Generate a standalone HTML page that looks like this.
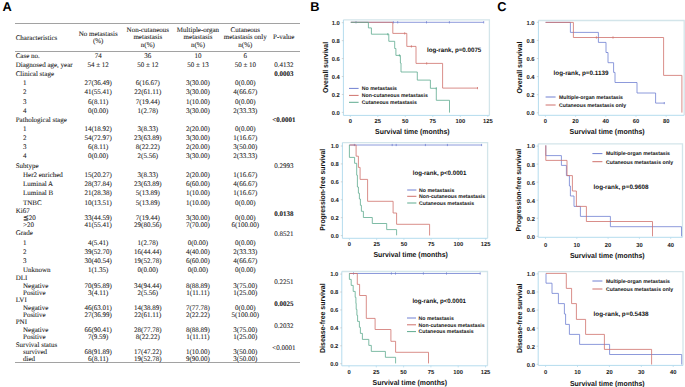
<!DOCTYPE html>
<html><head><meta charset="utf-8"><title>Figure</title>
<style>
html,body{margin:0;padding:0;background:#fff;}
body{width:685px;height:387px;overflow:hidden;font-family:"Liberation Sans",sans-serif;}
svg{display:block;text-rendering:geometricPrecision;}
</style></head>
<body>
<svg width="685" height="387" viewBox="0 0 685 387">
<rect width="685" height="387" fill="#fff"/>
<g id="table">
<line x1="15" y1="23.5" x2="300" y2="23.5" stroke="#a2a2a2" stroke-width="1.15"/>
<line x1="15" y1="51.5" x2="300" y2="51.5" stroke="#a2a2a2" stroke-width="1.15"/>
<line x1="15" y1="362.5" x2="300" y2="362.5" stroke="#a2a2a2" stroke-width="1.15"/>
<text x="15.7" y="39.9" font-size="7" text-anchor="start" font-family="'Liberation Serif', serif" fill="#1c1c1c" stroke="#1c1c1c" stroke-width="0.08" >Characteristics</text>
<text x="98.2" y="35.9" font-size="7" text-anchor="middle" font-family="'Liberation Serif', serif" fill="#1c1c1c" stroke="#1c1c1c" stroke-width="0.08" >No metastasis</text>
<text x="98.2" y="43.3" font-size="7" text-anchor="middle" font-family="'Liberation Serif', serif" fill="#1c1c1c" stroke="#1c1c1c" stroke-width="0.08" >(%)</text>
<text x="147.8" y="31.9" font-size="7" text-anchor="middle" font-family="'Liberation Serif', serif" fill="#1c1c1c" stroke="#1c1c1c" stroke-width="0.08" >Non-cutaneous</text>
<text x="147.8" y="39.4" font-size="7" text-anchor="middle" font-family="'Liberation Serif', serif" fill="#1c1c1c" stroke="#1c1c1c" stroke-width="0.08" >metastasis</text>
<text x="147.8" y="46.8" font-size="7" text-anchor="middle" font-family="'Liberation Serif', serif" fill="#1c1c1c" stroke="#1c1c1c" stroke-width="0.08" >n(%)</text>
<text x="198.0" y="31.9" font-size="7" text-anchor="middle" font-family="'Liberation Serif', serif" fill="#1c1c1c" stroke="#1c1c1c" stroke-width="0.08" >Multiple-organ</text>
<text x="198.0" y="39.4" font-size="7" text-anchor="middle" font-family="'Liberation Serif', serif" fill="#1c1c1c" stroke="#1c1c1c" stroke-width="0.08" >metastasis</text>
<text x="198.0" y="46.8" font-size="7" text-anchor="middle" font-family="'Liberation Serif', serif" fill="#1c1c1c" stroke="#1c1c1c" stroke-width="0.08" >n(%)</text>
<text x="245.3" y="31.9" font-size="7" text-anchor="middle" font-family="'Liberation Serif', serif" fill="#1c1c1c" stroke="#1c1c1c" stroke-width="0.08" >Cutaneous</text>
<text x="245.3" y="39.4" font-size="7" text-anchor="middle" font-family="'Liberation Serif', serif" fill="#1c1c1c" stroke="#1c1c1c" stroke-width="0.08" >metastasis only</text>
<text x="245.3" y="46.8" font-size="7" text-anchor="middle" font-family="'Liberation Serif', serif" fill="#1c1c1c" stroke="#1c1c1c" stroke-width="0.08" >n(%)</text>
<text x="283.8" y="39.4" font-size="7" text-anchor="middle" font-family="'Liberation Serif', serif" fill="#1c1c1c" stroke="#1c1c1c" stroke-width="0.08" >P-value</text>
<text x="15.7" y="57.9" font-size="7" text-anchor="start" font-family="'Liberation Serif', serif" fill="#1c1c1c" stroke="#1c1c1c" stroke-width="0.08" >Case no.</text>
<text x="98.2" y="57.9" font-size="7" text-anchor="middle" font-family="'Liberation Serif', serif" fill="#1c1c1c" stroke="#1c1c1c" stroke-width="0.08" >74</text>
<text x="147.8" y="57.9" font-size="7" text-anchor="middle" font-family="'Liberation Serif', serif" fill="#1c1c1c" stroke="#1c1c1c" stroke-width="0.08" >36</text>
<text x="198.0" y="57.9" font-size="7" text-anchor="middle" font-family="'Liberation Serif', serif" fill="#1c1c1c" stroke="#1c1c1c" stroke-width="0.08" >10</text>
<text x="245.3" y="57.9" font-size="7" text-anchor="middle" font-family="'Liberation Serif', serif" fill="#1c1c1c" stroke="#1c1c1c" stroke-width="0.08" >6</text>
<text x="15.7" y="67.0" font-size="7" text-anchor="start" font-family="'Liberation Serif', serif" fill="#1c1c1c" stroke="#1c1c1c" stroke-width="0.08" >Diagnosed age, year</text>
<text x="98.2" y="67.0" font-size="7" text-anchor="middle" font-family="'Liberation Serif', serif" fill="#1c1c1c" stroke="#1c1c1c" stroke-width="0.08" >54 ± 12</text>
<text x="147.8" y="67.0" font-size="7" text-anchor="middle" font-family="'Liberation Serif', serif" fill="#1c1c1c" stroke="#1c1c1c" stroke-width="0.08" >50 ± 12</text>
<text x="198.0" y="67.0" font-size="7" text-anchor="middle" font-family="'Liberation Serif', serif" fill="#1c1c1c" stroke="#1c1c1c" stroke-width="0.08" >50 ± 13</text>
<text x="245.3" y="67.0" font-size="7" text-anchor="middle" font-family="'Liberation Serif', serif" fill="#1c1c1c" stroke="#1c1c1c" stroke-width="0.08" >50 ± 10</text>
<text x="15.7" y="76.0" font-size="7" text-anchor="start" font-family="'Liberation Serif', serif" fill="#1c1c1c" stroke="#1c1c1c" stroke-width="0.08" >Clinical stage</text>
<text x="23.0" y="85.2" font-size="7" text-anchor="start" font-family="'Liberation Serif', serif" fill="#1c1c1c" stroke="#1c1c1c" stroke-width="0.08" >1</text>
<text x="98.2" y="85.2" font-size="7" text-anchor="middle" font-family="'Liberation Serif', serif" fill="#1c1c1c" stroke="#1c1c1c" stroke-width="0.08" >27(36.49)</text>
<text x="147.8" y="85.2" font-size="7" text-anchor="middle" font-family="'Liberation Serif', serif" fill="#1c1c1c" stroke="#1c1c1c" stroke-width="0.08" >6(16.67)</text>
<text x="198.0" y="85.2" font-size="7" text-anchor="middle" font-family="'Liberation Serif', serif" fill="#1c1c1c" stroke="#1c1c1c" stroke-width="0.08" >3(30.00)</text>
<text x="245.3" y="85.2" font-size="7" text-anchor="middle" font-family="'Liberation Serif', serif" fill="#1c1c1c" stroke="#1c1c1c" stroke-width="0.08" >0(0.00)</text>
<text x="23.0" y="94.4" font-size="7" text-anchor="start" font-family="'Liberation Serif', serif" fill="#1c1c1c" stroke="#1c1c1c" stroke-width="0.08" >2</text>
<text x="98.2" y="94.4" font-size="7" text-anchor="middle" font-family="'Liberation Serif', serif" fill="#1c1c1c" stroke="#1c1c1c" stroke-width="0.08" >41(55.41)</text>
<text x="147.8" y="94.4" font-size="7" text-anchor="middle" font-family="'Liberation Serif', serif" fill="#1c1c1c" stroke="#1c1c1c" stroke-width="0.08" >22(61.11)</text>
<text x="198.0" y="94.4" font-size="7" text-anchor="middle" font-family="'Liberation Serif', serif" fill="#1c1c1c" stroke="#1c1c1c" stroke-width="0.08" >3(30.00)</text>
<text x="245.3" y="94.4" font-size="7" text-anchor="middle" font-family="'Liberation Serif', serif" fill="#1c1c1c" stroke="#1c1c1c" stroke-width="0.08" >4(66.67)</text>
<text x="23.0" y="103.6" font-size="7" text-anchor="start" font-family="'Liberation Serif', serif" fill="#1c1c1c" stroke="#1c1c1c" stroke-width="0.08" >3</text>
<text x="98.2" y="103.6" font-size="7" text-anchor="middle" font-family="'Liberation Serif', serif" fill="#1c1c1c" stroke="#1c1c1c" stroke-width="0.08" >6(8.11)</text>
<text x="147.8" y="103.6" font-size="7" text-anchor="middle" font-family="'Liberation Serif', serif" fill="#1c1c1c" stroke="#1c1c1c" stroke-width="0.08" >7(19.44)</text>
<text x="198.0" y="103.6" font-size="7" text-anchor="middle" font-family="'Liberation Serif', serif" fill="#1c1c1c" stroke="#1c1c1c" stroke-width="0.08" >1(10.00)</text>
<text x="245.3" y="103.6" font-size="7" text-anchor="middle" font-family="'Liberation Serif', serif" fill="#1c1c1c" stroke="#1c1c1c" stroke-width="0.08" >0(0.00)</text>
<text x="23.0" y="112.7" font-size="7" text-anchor="start" font-family="'Liberation Serif', serif" fill="#1c1c1c" stroke="#1c1c1c" stroke-width="0.08" >4</text>
<text x="98.2" y="112.7" font-size="7" text-anchor="middle" font-family="'Liberation Serif', serif" fill="#1c1c1c" stroke="#1c1c1c" stroke-width="0.08" >0(0.00)</text>
<text x="147.8" y="112.7" font-size="7" text-anchor="middle" font-family="'Liberation Serif', serif" fill="#1c1c1c" stroke="#1c1c1c" stroke-width="0.08" >1(2.78)</text>
<text x="198.0" y="112.7" font-size="7" text-anchor="middle" font-family="'Liberation Serif', serif" fill="#1c1c1c" stroke="#1c1c1c" stroke-width="0.08" >3(30.00)</text>
<text x="245.3" y="112.7" font-size="7" text-anchor="middle" font-family="'Liberation Serif', serif" fill="#1c1c1c" stroke="#1c1c1c" stroke-width="0.08" >2(33.33)</text>
<text x="15.7" y="121.8" font-size="7" text-anchor="start" font-family="'Liberation Serif', serif" fill="#1c1c1c" stroke="#1c1c1c" stroke-width="0.08" >Pathological stage</text>
<text x="23.0" y="130.9" font-size="7" text-anchor="start" font-family="'Liberation Serif', serif" fill="#1c1c1c" stroke="#1c1c1c" stroke-width="0.08" >1</text>
<text x="98.2" y="130.9" font-size="7" text-anchor="middle" font-family="'Liberation Serif', serif" fill="#1c1c1c" stroke="#1c1c1c" stroke-width="0.08" >14(18.92)</text>
<text x="147.8" y="130.9" font-size="7" text-anchor="middle" font-family="'Liberation Serif', serif" fill="#1c1c1c" stroke="#1c1c1c" stroke-width="0.08" >3(8.33)</text>
<text x="198.0" y="130.9" font-size="7" text-anchor="middle" font-family="'Liberation Serif', serif" fill="#1c1c1c" stroke="#1c1c1c" stroke-width="0.08" >2(20.00)</text>
<text x="245.3" y="130.9" font-size="7" text-anchor="middle" font-family="'Liberation Serif', serif" fill="#1c1c1c" stroke="#1c1c1c" stroke-width="0.08" >0(0.00)</text>
<text x="23.0" y="140.2" font-size="7" text-anchor="start" font-family="'Liberation Serif', serif" fill="#1c1c1c" stroke="#1c1c1c" stroke-width="0.08" >2</text>
<text x="98.2" y="140.2" font-size="7" text-anchor="middle" font-family="'Liberation Serif', serif" fill="#1c1c1c" stroke="#1c1c1c" stroke-width="0.08" >54(72.97)</text>
<text x="147.8" y="140.2" font-size="7" text-anchor="middle" font-family="'Liberation Serif', serif" fill="#1c1c1c" stroke="#1c1c1c" stroke-width="0.08" >23(63.89)</text>
<text x="198.0" y="140.2" font-size="7" text-anchor="middle" font-family="'Liberation Serif', serif" fill="#1c1c1c" stroke="#1c1c1c" stroke-width="0.08" >3(30.00)</text>
<text x="245.3" y="140.2" font-size="7" text-anchor="middle" font-family="'Liberation Serif', serif" fill="#1c1c1c" stroke="#1c1c1c" stroke-width="0.08" >1(16.67)</text>
<text x="23.0" y="149.4" font-size="7" text-anchor="start" font-family="'Liberation Serif', serif" fill="#1c1c1c" stroke="#1c1c1c" stroke-width="0.08" >3</text>
<text x="98.2" y="149.4" font-size="7" text-anchor="middle" font-family="'Liberation Serif', serif" fill="#1c1c1c" stroke="#1c1c1c" stroke-width="0.08" >6(8.11)</text>
<text x="147.8" y="149.4" font-size="7" text-anchor="middle" font-family="'Liberation Serif', serif" fill="#1c1c1c" stroke="#1c1c1c" stroke-width="0.08" >8(22.22)</text>
<text x="198.0" y="149.4" font-size="7" text-anchor="middle" font-family="'Liberation Serif', serif" fill="#1c1c1c" stroke="#1c1c1c" stroke-width="0.08" >2(20.00)</text>
<text x="245.3" y="149.4" font-size="7" text-anchor="middle" font-family="'Liberation Serif', serif" fill="#1c1c1c" stroke="#1c1c1c" stroke-width="0.08" >3(50.00)</text>
<text x="23.0" y="158.4" font-size="7" text-anchor="start" font-family="'Liberation Serif', serif" fill="#1c1c1c" stroke="#1c1c1c" stroke-width="0.08" >4</text>
<text x="98.2" y="158.4" font-size="7" text-anchor="middle" font-family="'Liberation Serif', serif" fill="#1c1c1c" stroke="#1c1c1c" stroke-width="0.08" >0(0.00)</text>
<text x="147.8" y="158.4" font-size="7" text-anchor="middle" font-family="'Liberation Serif', serif" fill="#1c1c1c" stroke="#1c1c1c" stroke-width="0.08" >2(5.56)</text>
<text x="198.0" y="158.4" font-size="7" text-anchor="middle" font-family="'Liberation Serif', serif" fill="#1c1c1c" stroke="#1c1c1c" stroke-width="0.08" >3(30.00)</text>
<text x="245.3" y="158.4" font-size="7" text-anchor="middle" font-family="'Liberation Serif', serif" fill="#1c1c1c" stroke="#1c1c1c" stroke-width="0.08" >2(33.33)</text>
<text x="15.7" y="167.6" font-size="7" text-anchor="start" font-family="'Liberation Serif', serif" fill="#1c1c1c" stroke="#1c1c1c" stroke-width="0.08" >Subtype</text>
<text x="23.0" y="176.7" font-size="7" text-anchor="start" font-family="'Liberation Serif', serif" fill="#1c1c1c" stroke="#1c1c1c" stroke-width="0.08" >Her2 enriched</text>
<text x="98.2" y="176.7" font-size="7" text-anchor="middle" font-family="'Liberation Serif', serif" fill="#1c1c1c" stroke="#1c1c1c" stroke-width="0.08" >15(20.27)</text>
<text x="147.8" y="176.7" font-size="7" text-anchor="middle" font-family="'Liberation Serif', serif" fill="#1c1c1c" stroke="#1c1c1c" stroke-width="0.08" >3(8.33)</text>
<text x="198.0" y="176.7" font-size="7" text-anchor="middle" font-family="'Liberation Serif', serif" fill="#1c1c1c" stroke="#1c1c1c" stroke-width="0.08" >2(20.00)</text>
<text x="245.3" y="176.7" font-size="7" text-anchor="middle" font-family="'Liberation Serif', serif" fill="#1c1c1c" stroke="#1c1c1c" stroke-width="0.08" >1(16.67)</text>
<text x="23.0" y="186.0" font-size="7" text-anchor="start" font-family="'Liberation Serif', serif" fill="#1c1c1c" stroke="#1c1c1c" stroke-width="0.08" >Luminal A</text>
<text x="98.2" y="186.0" font-size="7" text-anchor="middle" font-family="'Liberation Serif', serif" fill="#1c1c1c" stroke="#1c1c1c" stroke-width="0.08" >28(37.84)</text>
<text x="147.8" y="186.0" font-size="7" text-anchor="middle" font-family="'Liberation Serif', serif" fill="#1c1c1c" stroke="#1c1c1c" stroke-width="0.08" >23(63.89)</text>
<text x="198.0" y="186.0" font-size="7" text-anchor="middle" font-family="'Liberation Serif', serif" fill="#1c1c1c" stroke="#1c1c1c" stroke-width="0.08" >6(60.00)</text>
<text x="245.3" y="186.0" font-size="7" text-anchor="middle" font-family="'Liberation Serif', serif" fill="#1c1c1c" stroke="#1c1c1c" stroke-width="0.08" >4(66.67)</text>
<text x="23.0" y="195.3" font-size="7" text-anchor="start" font-family="'Liberation Serif', serif" fill="#1c1c1c" stroke="#1c1c1c" stroke-width="0.08" >Luminal B</text>
<text x="98.2" y="195.3" font-size="7" text-anchor="middle" font-family="'Liberation Serif', serif" fill="#1c1c1c" stroke="#1c1c1c" stroke-width="0.08" >21(28.38)</text>
<text x="147.8" y="195.3" font-size="7" text-anchor="middle" font-family="'Liberation Serif', serif" fill="#1c1c1c" stroke="#1c1c1c" stroke-width="0.08" >5(13.89)</text>
<text x="198.0" y="195.3" font-size="7" text-anchor="middle" font-family="'Liberation Serif', serif" fill="#1c1c1c" stroke="#1c1c1c" stroke-width="0.08" >1(10.00)</text>
<text x="245.3" y="195.3" font-size="7" text-anchor="middle" font-family="'Liberation Serif', serif" fill="#1c1c1c" stroke="#1c1c1c" stroke-width="0.08" >1(16.67)</text>
<text x="23.0" y="204.6" font-size="7" text-anchor="start" font-family="'Liberation Serif', serif" fill="#1c1c1c" stroke="#1c1c1c" stroke-width="0.08" >TNBC</text>
<text x="98.2" y="204.6" font-size="7" text-anchor="middle" font-family="'Liberation Serif', serif" fill="#1c1c1c" stroke="#1c1c1c" stroke-width="0.08" >10(13.51)</text>
<text x="147.8" y="204.6" font-size="7" text-anchor="middle" font-family="'Liberation Serif', serif" fill="#1c1c1c" stroke="#1c1c1c" stroke-width="0.08" >5(13.89)</text>
<text x="198.0" y="204.6" font-size="7" text-anchor="middle" font-family="'Liberation Serif', serif" fill="#1c1c1c" stroke="#1c1c1c" stroke-width="0.08" >1(10.00)</text>
<text x="245.3" y="204.6" font-size="7" text-anchor="middle" font-family="'Liberation Serif', serif" fill="#1c1c1c" stroke="#1c1c1c" stroke-width="0.08" >0(0.00)</text>
<text x="15.7" y="212.7" font-size="7" text-anchor="start" font-family="'Liberation Serif', serif" fill="#1c1c1c" stroke="#1c1c1c" stroke-width="0.08" >Ki67</text>
<text x="23.0" y="220.0" font-size="7" text-anchor="start" font-family="'Liberation Serif', serif" fill="#1c1c1c" stroke="#1c1c1c" stroke-width="0.08" >≦20</text>
<text x="98.2" y="220.0" font-size="7" text-anchor="middle" font-family="'Liberation Serif', serif" fill="#1c1c1c" stroke="#1c1c1c" stroke-width="0.08" >33(44.59)</text>
<text x="147.8" y="220.0" font-size="7" text-anchor="middle" font-family="'Liberation Serif', serif" fill="#1c1c1c" stroke="#1c1c1c" stroke-width="0.08" >7(19.44)</text>
<text x="198.0" y="220.0" font-size="7" text-anchor="middle" font-family="'Liberation Serif', serif" fill="#1c1c1c" stroke="#1c1c1c" stroke-width="0.08" >3(30.00)</text>
<text x="245.3" y="220.0" font-size="7" text-anchor="middle" font-family="'Liberation Serif', serif" fill="#1c1c1c" stroke="#1c1c1c" stroke-width="0.08" >0(0.00)</text>
<text x="23.0" y="227.2" font-size="7" text-anchor="start" font-family="'Liberation Serif', serif" fill="#1c1c1c" stroke="#1c1c1c" stroke-width="0.08" >&gt;20</text>
<text x="98.2" y="227.2" font-size="7" text-anchor="middle" font-family="'Liberation Serif', serif" fill="#1c1c1c" stroke="#1c1c1c" stroke-width="0.08" >41(55.41)</text>
<text x="147.8" y="227.2" font-size="7" text-anchor="middle" font-family="'Liberation Serif', serif" fill="#1c1c1c" stroke="#1c1c1c" stroke-width="0.08" >29(80.56)</text>
<text x="198.0" y="227.2" font-size="7" text-anchor="middle" font-family="'Liberation Serif', serif" fill="#1c1c1c" stroke="#1c1c1c" stroke-width="0.08" >7(70.00)</text>
<text x="245.3" y="227.2" font-size="7" text-anchor="middle" font-family="'Liberation Serif', serif" fill="#1c1c1c" stroke="#1c1c1c" stroke-width="0.08" >6(100.00)</text>
<text x="15.7" y="235.3" font-size="7" text-anchor="start" font-family="'Liberation Serif', serif" fill="#1c1c1c" stroke="#1c1c1c" stroke-width="0.08" >Grade</text>
<text x="23.0" y="244.8" font-size="7" text-anchor="start" font-family="'Liberation Serif', serif" fill="#1c1c1c" stroke="#1c1c1c" stroke-width="0.08" >1</text>
<text x="98.2" y="244.8" font-size="7" text-anchor="middle" font-family="'Liberation Serif', serif" fill="#1c1c1c" stroke="#1c1c1c" stroke-width="0.08" >4(5.41)</text>
<text x="147.8" y="244.8" font-size="7" text-anchor="middle" font-family="'Liberation Serif', serif" fill="#1c1c1c" stroke="#1c1c1c" stroke-width="0.08" >1(2.78)</text>
<text x="198.0" y="244.8" font-size="7" text-anchor="middle" font-family="'Liberation Serif', serif" fill="#1c1c1c" stroke="#1c1c1c" stroke-width="0.08" >0(0.00)</text>
<text x="245.3" y="244.8" font-size="7" text-anchor="middle" font-family="'Liberation Serif', serif" fill="#1c1c1c" stroke="#1c1c1c" stroke-width="0.08" >0(0.00)</text>
<text x="23.0" y="254.0" font-size="7" text-anchor="start" font-family="'Liberation Serif', serif" fill="#1c1c1c" stroke="#1c1c1c" stroke-width="0.08" >2</text>
<text x="98.2" y="254.0" font-size="7" text-anchor="middle" font-family="'Liberation Serif', serif" fill="#1c1c1c" stroke="#1c1c1c" stroke-width="0.08" >39(52.70)</text>
<text x="147.8" y="254.0" font-size="7" text-anchor="middle" font-family="'Liberation Serif', serif" fill="#1c1c1c" stroke="#1c1c1c" stroke-width="0.08" >16(44.44)</text>
<text x="198.0" y="254.0" font-size="7" text-anchor="middle" font-family="'Liberation Serif', serif" fill="#1c1c1c" stroke="#1c1c1c" stroke-width="0.08" >4(40.00)</text>
<text x="245.3" y="254.0" font-size="7" text-anchor="middle" font-family="'Liberation Serif', serif" fill="#1c1c1c" stroke="#1c1c1c" stroke-width="0.08" >2(33.33)</text>
<text x="23.0" y="263.0" font-size="7" text-anchor="start" font-family="'Liberation Serif', serif" fill="#1c1c1c" stroke="#1c1c1c" stroke-width="0.08" >3</text>
<text x="98.2" y="263.0" font-size="7" text-anchor="middle" font-family="'Liberation Serif', serif" fill="#1c1c1c" stroke="#1c1c1c" stroke-width="0.08" >30(40.54)</text>
<text x="147.8" y="263.0" font-size="7" text-anchor="middle" font-family="'Liberation Serif', serif" fill="#1c1c1c" stroke="#1c1c1c" stroke-width="0.08" >19(52.78)</text>
<text x="198.0" y="263.0" font-size="7" text-anchor="middle" font-family="'Liberation Serif', serif" fill="#1c1c1c" stroke="#1c1c1c" stroke-width="0.08" >6(60.00)</text>
<text x="245.3" y="263.0" font-size="7" text-anchor="middle" font-family="'Liberation Serif', serif" fill="#1c1c1c" stroke="#1c1c1c" stroke-width="0.08" >4(66.67)</text>
<text x="23.0" y="272.1" font-size="7" text-anchor="start" font-family="'Liberation Serif', serif" fill="#1c1c1c" stroke="#1c1c1c" stroke-width="0.08" >Unknown</text>
<text x="98.2" y="272.1" font-size="7" text-anchor="middle" font-family="'Liberation Serif', serif" fill="#1c1c1c" stroke="#1c1c1c" stroke-width="0.08" >1(1.35)</text>
<text x="147.8" y="272.1" font-size="7" text-anchor="middle" font-family="'Liberation Serif', serif" fill="#1c1c1c" stroke="#1c1c1c" stroke-width="0.08" >0(0.00)</text>
<text x="198.0" y="272.1" font-size="7" text-anchor="middle" font-family="'Liberation Serif', serif" fill="#1c1c1c" stroke="#1c1c1c" stroke-width="0.08" >0(0.00)</text>
<text x="245.3" y="272.1" font-size="7" text-anchor="middle" font-family="'Liberation Serif', serif" fill="#1c1c1c" stroke="#1c1c1c" stroke-width="0.08" >0(0.00)</text>
<text x="15.7" y="280.4" font-size="7" text-anchor="start" font-family="'Liberation Serif', serif" fill="#1c1c1c" stroke="#1c1c1c" stroke-width="0.08" >DLI</text>
<text x="23.0" y="287.6" font-size="7" text-anchor="start" font-family="'Liberation Serif', serif" fill="#1c1c1c" stroke="#1c1c1c" stroke-width="0.08" >Negative</text>
<text x="98.2" y="287.6" font-size="7" text-anchor="middle" font-family="'Liberation Serif', serif" fill="#1c1c1c" stroke="#1c1c1c" stroke-width="0.08" >70(95.89)</text>
<text x="147.8" y="287.6" font-size="7" text-anchor="middle" font-family="'Liberation Serif', serif" fill="#1c1c1c" stroke="#1c1c1c" stroke-width="0.08" >34(94.44)</text>
<text x="198.0" y="287.6" font-size="7" text-anchor="middle" font-family="'Liberation Serif', serif" fill="#1c1c1c" stroke="#1c1c1c" stroke-width="0.08" >8(88.89)</text>
<text x="245.3" y="287.6" font-size="7" text-anchor="middle" font-family="'Liberation Serif', serif" fill="#1c1c1c" stroke="#1c1c1c" stroke-width="0.08" >3(75.00)</text>
<text x="23.0" y="294.7" font-size="7" text-anchor="start" font-family="'Liberation Serif', serif" fill="#1c1c1c" stroke="#1c1c1c" stroke-width="0.08" >Positive</text>
<text x="98.2" y="294.7" font-size="7" text-anchor="middle" font-family="'Liberation Serif', serif" fill="#1c1c1c" stroke="#1c1c1c" stroke-width="0.08" >3(4.11)</text>
<text x="147.8" y="294.7" font-size="7" text-anchor="middle" font-family="'Liberation Serif', serif" fill="#1c1c1c" stroke="#1c1c1c" stroke-width="0.08" >2(5.56)</text>
<text x="198.0" y="294.7" font-size="7" text-anchor="middle" font-family="'Liberation Serif', serif" fill="#1c1c1c" stroke="#1c1c1c" stroke-width="0.08" >1(11.11)</text>
<text x="245.3" y="294.7" font-size="7" text-anchor="middle" font-family="'Liberation Serif', serif" fill="#1c1c1c" stroke="#1c1c1c" stroke-width="0.08" >1(25.00)</text>
<text x="15.7" y="302.3" font-size="7" text-anchor="start" font-family="'Liberation Serif', serif" fill="#1c1c1c" stroke="#1c1c1c" stroke-width="0.08" >LVI</text>
<text x="23.0" y="309.5" font-size="7" text-anchor="start" font-family="'Liberation Serif', serif" fill="#1c1c1c" stroke="#1c1c1c" stroke-width="0.08" >Negative</text>
<text x="98.2" y="309.5" font-size="7" text-anchor="middle" font-family="'Liberation Serif', serif" fill="#1c1c1c" stroke="#1c1c1c" stroke-width="0.08" >46(63.01)</text>
<text x="147.8" y="309.5" font-size="7" text-anchor="middle" font-family="'Liberation Serif', serif" fill="#1c1c1c" stroke="#1c1c1c" stroke-width="0.08" >14(38.89)</text>
<text x="198.0" y="309.5" font-size="7" text-anchor="middle" font-family="'Liberation Serif', serif" fill="#1c1c1c" stroke="#1c1c1c" stroke-width="0.08" >7(77.78)</text>
<text x="245.3" y="309.5" font-size="7" text-anchor="middle" font-family="'Liberation Serif', serif" fill="#1c1c1c" stroke="#1c1c1c" stroke-width="0.08" >0(0.00)</text>
<text x="23.0" y="316.8" font-size="7" text-anchor="start" font-family="'Liberation Serif', serif" fill="#1c1c1c" stroke="#1c1c1c" stroke-width="0.08" >Positive</text>
<text x="98.2" y="316.8" font-size="7" text-anchor="middle" font-family="'Liberation Serif', serif" fill="#1c1c1c" stroke="#1c1c1c" stroke-width="0.08" >27(36.99)</text>
<text x="147.8" y="316.8" font-size="7" text-anchor="middle" font-family="'Liberation Serif', serif" fill="#1c1c1c" stroke="#1c1c1c" stroke-width="0.08" >22(61.11)</text>
<text x="198.0" y="316.8" font-size="7" text-anchor="middle" font-family="'Liberation Serif', serif" fill="#1c1c1c" stroke="#1c1c1c" stroke-width="0.08" >2(22.22)</text>
<text x="245.3" y="316.8" font-size="7" text-anchor="middle" font-family="'Liberation Serif', serif" fill="#1c1c1c" stroke="#1c1c1c" stroke-width="0.08" >5(100.00)</text>
<text x="15.7" y="324.3" font-size="7" text-anchor="start" font-family="'Liberation Serif', serif" fill="#1c1c1c" stroke="#1c1c1c" stroke-width="0.08" >PNI</text>
<text x="23.0" y="331.6" font-size="7" text-anchor="start" font-family="'Liberation Serif', serif" fill="#1c1c1c" stroke="#1c1c1c" stroke-width="0.08" >Negative</text>
<text x="98.2" y="331.6" font-size="7" text-anchor="middle" font-family="'Liberation Serif', serif" fill="#1c1c1c" stroke="#1c1c1c" stroke-width="0.08" >66(90.41)</text>
<text x="147.8" y="331.6" font-size="7" text-anchor="middle" font-family="'Liberation Serif', serif" fill="#1c1c1c" stroke="#1c1c1c" stroke-width="0.08" >28(77.78)</text>
<text x="198.0" y="331.6" font-size="7" text-anchor="middle" font-family="'Liberation Serif', serif" fill="#1c1c1c" stroke="#1c1c1c" stroke-width="0.08" >8(88.89)</text>
<text x="245.3" y="331.6" font-size="7" text-anchor="middle" font-family="'Liberation Serif', serif" fill="#1c1c1c" stroke="#1c1c1c" stroke-width="0.08" >3(75.00)</text>
<text x="23.0" y="338.9" font-size="7" text-anchor="start" font-family="'Liberation Serif', serif" fill="#1c1c1c" stroke="#1c1c1c" stroke-width="0.08" >Positive</text>
<text x="98.2" y="338.9" font-size="7" text-anchor="middle" font-family="'Liberation Serif', serif" fill="#1c1c1c" stroke="#1c1c1c" stroke-width="0.08" >7(9.59)</text>
<text x="147.8" y="338.9" font-size="7" text-anchor="middle" font-family="'Liberation Serif', serif" fill="#1c1c1c" stroke="#1c1c1c" stroke-width="0.08" >8(22.22)</text>
<text x="198.0" y="338.9" font-size="7" text-anchor="middle" font-family="'Liberation Serif', serif" fill="#1c1c1c" stroke="#1c1c1c" stroke-width="0.08" >1(11.11)</text>
<text x="245.3" y="338.9" font-size="7" text-anchor="middle" font-family="'Liberation Serif', serif" fill="#1c1c1c" stroke="#1c1c1c" stroke-width="0.08" >1(25.00)</text>
<text x="15.7" y="346.6" font-size="7" text-anchor="start" font-family="'Liberation Serif', serif" fill="#1c1c1c" stroke="#1c1c1c" stroke-width="0.08" >Survival status</text>
<text x="23.0" y="353.9" font-size="7" text-anchor="start" font-family="'Liberation Serif', serif" fill="#1c1c1c" stroke="#1c1c1c" stroke-width="0.08" >survived</text>
<text x="98.2" y="353.9" font-size="7" text-anchor="middle" font-family="'Liberation Serif', serif" fill="#1c1c1c" stroke="#1c1c1c" stroke-width="0.08" >68(91.89)</text>
<text x="147.8" y="353.9" font-size="7" text-anchor="middle" font-family="'Liberation Serif', serif" fill="#1c1c1c" stroke="#1c1c1c" stroke-width="0.08" >17(47.22)</text>
<text x="198.0" y="353.9" font-size="7" text-anchor="middle" font-family="'Liberation Serif', serif" fill="#1c1c1c" stroke="#1c1c1c" stroke-width="0.08" >1(10.00)</text>
<text x="245.3" y="353.9" font-size="7" text-anchor="middle" font-family="'Liberation Serif', serif" fill="#1c1c1c" stroke="#1c1c1c" stroke-width="0.08" >3(50.00)</text>
<text x="23.0" y="361.0" font-size="7" text-anchor="start" font-family="'Liberation Serif', serif" fill="#1c1c1c" stroke="#1c1c1c" stroke-width="0.08" >died</text>
<text x="98.2" y="361.0" font-size="7" text-anchor="middle" font-family="'Liberation Serif', serif" fill="#1c1c1c" stroke="#1c1c1c" stroke-width="0.08" >6(8.11)</text>
<text x="147.8" y="361.0" font-size="7" text-anchor="middle" font-family="'Liberation Serif', serif" fill="#1c1c1c" stroke="#1c1c1c" stroke-width="0.08" >19(52.78)</text>
<text x="198.0" y="361.0" font-size="7" text-anchor="middle" font-family="'Liberation Serif', serif" fill="#1c1c1c" stroke="#1c1c1c" stroke-width="0.08" >9(90.00)</text>
<text x="245.3" y="361.0" font-size="7" text-anchor="middle" font-family="'Liberation Serif', serif" fill="#1c1c1c" stroke="#1c1c1c" stroke-width="0.08" >3(50.00)</text>
<text x="283.8" y="66.8" font-size="7" text-anchor="middle" font-family="'Liberation Serif', serif" fill="#1c1c1c" stroke="#1c1c1c" stroke-width="0.08" >0.4132</text>
<text x="283.8" y="75.8" font-size="7" text-anchor="middle" font-family="'Liberation Serif', serif" fill="#1c1c1c" font-weight="bold" stroke="#1c1c1c" stroke-width="0.08" >0.0003</text>
<text x="283.8" y="121.7" font-size="7" text-anchor="middle" font-family="'Liberation Serif', serif" fill="#1c1c1c" font-weight="bold" stroke="#1c1c1c" stroke-width="0.08" >&lt;0.0001</text>
<text x="283.8" y="167.7" font-size="7" text-anchor="middle" font-family="'Liberation Serif', serif" fill="#1c1c1c" stroke="#1c1c1c" stroke-width="0.08" >0.2993</text>
<text x="283.8" y="216.4" font-size="7" text-anchor="middle" font-family="'Liberation Serif', serif" fill="#1c1c1c" font-weight="bold" stroke="#1c1c1c" stroke-width="0.08" >0.0138</text>
<text x="283.8" y="235.6" font-size="7" text-anchor="middle" font-family="'Liberation Serif', serif" fill="#1c1c1c" stroke="#1c1c1c" stroke-width="0.08" >0.8521</text>
<text x="283.8" y="283.9" font-size="7" text-anchor="middle" font-family="'Liberation Serif', serif" fill="#1c1c1c" stroke="#1c1c1c" stroke-width="0.08" >0.2251</text>
<text x="283.8" y="305.7" font-size="7" text-anchor="middle" font-family="'Liberation Serif', serif" fill="#1c1c1c" font-weight="bold" stroke="#1c1c1c" stroke-width="0.08" >0.0025</text>
<text x="283.8" y="328.3" font-size="7" text-anchor="middle" font-family="'Liberation Serif', serif" fill="#1c1c1c" stroke="#1c1c1c" stroke-width="0.08" >0.2032</text>
<text x="283.8" y="350.2" font-size="7" text-anchor="middle" font-family="'Liberation Serif', serif" fill="#1c1c1c" stroke="#1c1c1c" stroke-width="0.08" >&lt;0.0001</text>
</g>
<text x="2.4" y="10.9" font-size="12.8" text-anchor="start" font-family="'Liberation Sans', sans-serif" fill="#000" font-weight="bold" >A</text>
<text x="310.3" y="10.9" font-size="12.8" text-anchor="start" font-family="'Liberation Sans', sans-serif" fill="#000" font-weight="bold" >B</text>
<text x="497.3" y="11.3" font-size="12.8" text-anchor="start" font-family="'Liberation Sans', sans-serif" fill="#000" font-weight="bold" >C</text>
<g>
<path d="M343.4,19.9 H489.4 V115.4" fill="none" stroke="#d3e5ea" stroke-width="1.3"/>
<path d="M343.4,19.9 V115.4 H489.4" fill="none" stroke="#b5dcee" stroke-width="1"/>
<line x1="350.3" y1="115.4" x2="350.3" y2="117.0" stroke="#b5dcee" stroke-width="0.8"/>
<text x="350.3" y="122.9" font-size="5.8" text-anchor="middle" font-family="'Liberation Sans', sans-serif" fill="#222" font-weight="bold" >0</text>
<line x1="377.8" y1="115.4" x2="377.8" y2="117.0" stroke="#b5dcee" stroke-width="0.8"/>
<text x="377.8" y="122.9" font-size="5.8" text-anchor="middle" font-family="'Liberation Sans', sans-serif" fill="#222" font-weight="bold" >25</text>
<line x1="405.3" y1="115.4" x2="405.3" y2="117.0" stroke="#b5dcee" stroke-width="0.8"/>
<text x="405.3" y="122.9" font-size="5.8" text-anchor="middle" font-family="'Liberation Sans', sans-serif" fill="#222" font-weight="bold" >50</text>
<line x1="432.8" y1="115.4" x2="432.8" y2="117.0" stroke="#b5dcee" stroke-width="0.8"/>
<text x="432.8" y="122.9" font-size="5.8" text-anchor="middle" font-family="'Liberation Sans', sans-serif" fill="#222" font-weight="bold" >75</text>
<line x1="460.3" y1="115.4" x2="460.3" y2="117.0" stroke="#b5dcee" stroke-width="0.8"/>
<text x="460.3" y="122.9" font-size="5.8" text-anchor="middle" font-family="'Liberation Sans', sans-serif" fill="#222" font-weight="bold" >100</text>
<line x1="487.8" y1="115.4" x2="487.8" y2="117.0" stroke="#b5dcee" stroke-width="0.8"/>
<text x="487.8" y="122.9" font-size="5.8" text-anchor="middle" font-family="'Liberation Sans', sans-serif" fill="#222" font-weight="bold" >125</text>
<line x1="341.79999999999995" y1="112.40" x2="343.4" y2="112.40" stroke="#bbb" stroke-width="0.6"/>
<text x="339.8" y="114.77" font-size="5.8" text-anchor="end" font-family="'Liberation Sans', sans-serif" fill="#222" font-weight="bold" >0.0</text>
<line x1="341.79999999999995" y1="94.46" x2="343.4" y2="94.46" stroke="#bbb" stroke-width="0.6"/>
<text x="339.8" y="96.83" font-size="5.8" text-anchor="end" font-family="'Liberation Sans', sans-serif" fill="#222" font-weight="bold" >0.2</text>
<line x1="341.79999999999995" y1="76.52" x2="343.4" y2="76.52" stroke="#bbb" stroke-width="0.6"/>
<text x="339.8" y="78.89" font-size="5.8" text-anchor="end" font-family="'Liberation Sans', sans-serif" fill="#222" font-weight="bold" >0.4</text>
<line x1="341.79999999999995" y1="58.58" x2="343.4" y2="58.58" stroke="#bbb" stroke-width="0.6"/>
<text x="339.8" y="60.95" font-size="5.8" text-anchor="end" font-family="'Liberation Sans', sans-serif" fill="#222" font-weight="bold" >0.6</text>
<line x1="341.79999999999995" y1="40.64" x2="343.4" y2="40.64" stroke="#bbb" stroke-width="0.6"/>
<text x="339.8" y="43.01" font-size="5.8" text-anchor="end" font-family="'Liberation Sans', sans-serif" fill="#222" font-weight="bold" >0.8</text>
<line x1="341.79999999999995" y1="22.70" x2="343.4" y2="22.70" stroke="#bbb" stroke-width="0.6"/>
<text x="339.8" y="25.07" font-size="5.8" text-anchor="end" font-family="'Liberation Sans', sans-serif" fill="#222" font-weight="bold" >1.0</text>
<text transform="translate(327.8,67.5) rotate(-90)" x="0" y="0" font-size="7.3" text-anchor="middle" font-family="'Liberation Sans', sans-serif" font-weight="bold" fill="#111" textLength="51.2" lengthAdjust="spacingAndGlyphs">Overall survival</text>
<text x="375.1" y="133.6" font-size="7.3" font-family="'Liberation Sans', sans-serif" font-weight="bold" fill="#111" textLength="74.5" lengthAdjust="spacingAndGlyphs">Survival time (months)</text>
<text x="427.0" y="52.1" font-size="6.3" font-family="'Liberation Sans', sans-serif" font-weight="bold" fill="#111" textLength="54.30000000000001" lengthAdjust="spacingAndGlyphs">log-rank, p=0.0075</text>
<line x1="349.0" y1="88.4" x2="358.6" y2="88.4" stroke="#7080d2" stroke-width="1"/>
<text x="361.8" y="90.25" font-size="5.2" font-family="'Liberation Sans', sans-serif" font-weight="bold" fill="#111">No metastasis</text>
<line x1="349.0" y1="95.4" x2="358.6" y2="95.4" stroke="#cf716c" stroke-width="1"/>
<text x="361.8" y="97.25" font-size="5.2" font-family="'Liberation Sans', sans-serif" font-weight="bold" fill="#111">Non-cutaneous metastasis</text>
<line x1="349.0" y1="102.3" x2="358.6" y2="102.3" stroke="#5eab8f" stroke-width="1"/>
<text x="361.8" y="104.14999999999999" font-size="5.2" font-family="'Liberation Sans', sans-serif" font-weight="bold" fill="#111">Cutaneous metastasis</text>
<path d="M350.8,22.3 H483.7" fill="none" stroke="#7080d2" stroke-width="0.8"/>
<line x1="356" y1="21.2" x2="356" y2="23.400000000000002" stroke="#7080d2" stroke-width="0.8"/>
<line x1="393.3" y1="21.2" x2="393.3" y2="23.400000000000002" stroke="#7080d2" stroke-width="0.8"/>
<line x1="397.7" y1="21.2" x2="397.7" y2="23.400000000000002" stroke="#7080d2" stroke-width="0.8"/>
<line x1="426.5" y1="21.2" x2="426.5" y2="23.400000000000002" stroke="#7080d2" stroke-width="0.8"/>
<line x1="449.4" y1="21.2" x2="449.4" y2="23.400000000000002" stroke="#7080d2" stroke-width="0.8"/>
<line x1="483.7" y1="21.2" x2="483.7" y2="23.400000000000002" stroke="#7080d2" stroke-width="0.8"/>
<path d="M350.8,22.3 H392.8 V33.4 H406.8 V46.4 H416 V63.4 H442.6 V88.1 H477.5" fill="none" stroke="#cf716c" stroke-width="0.8"/>
<line x1="404.7" y1="32.3" x2="404.7" y2="34.5" stroke="#cf716c" stroke-width="0.8"/>
<line x1="411.4" y1="45.3" x2="411.4" y2="47.5" stroke="#cf716c" stroke-width="0.8"/>
<line x1="426.7" y1="62.3" x2="426.7" y2="64.5" stroke="#cf716c" stroke-width="0.8"/>
<line x1="477.5" y1="87.0" x2="477.5" y2="89.19999999999999" stroke="#cf716c" stroke-width="0.8"/>
<path d="M350.8,22.3 H368.4 V27.9 H371.4 V34.2 H388.8 V41.3 H394.7 V48.5 H395.9 V55.4 H400.4 V63 H401 V72.0 H417.3 V80.1 H430.4 V88.3 H436.3 V100.3 H449.5 V112.6" fill="none" stroke="#5eab8f" stroke-width="0.8"/>
<line x1="387.8" y1="33.1" x2="387.8" y2="35.300000000000004" stroke="#5eab8f" stroke-width="0.8"/>
<line x1="399.4" y1="54.3" x2="399.4" y2="56.5" stroke="#5eab8f" stroke-width="0.8"/>
<line x1="436.3" y1="87.2" x2="436.3" y2="89.39999999999999" stroke="#5eab8f" stroke-width="0.8"/>
</g>
<g>
<path d="M342.4,142.6 H487.6 V238.3" fill="none" stroke="#d3e5ea" stroke-width="1.3"/>
<path d="M342.4,142.6 V238.3 H487.6" fill="none" stroke="#b5dcee" stroke-width="1"/>
<line x1="349.4" y1="238.3" x2="349.4" y2="239.9" stroke="#b5dcee" stroke-width="0.8"/>
<text x="349.4" y="245.7" font-size="5.8" text-anchor="middle" font-family="'Liberation Sans', sans-serif" fill="#222" font-weight="bold" >0</text>
<line x1="376.65" y1="238.3" x2="376.65" y2="239.9" stroke="#b5dcee" stroke-width="0.8"/>
<text x="376.65" y="245.7" font-size="5.8" text-anchor="middle" font-family="'Liberation Sans', sans-serif" fill="#222" font-weight="bold" >25</text>
<line x1="403.9" y1="238.3" x2="403.9" y2="239.9" stroke="#b5dcee" stroke-width="0.8"/>
<text x="403.9" y="245.7" font-size="5.8" text-anchor="middle" font-family="'Liberation Sans', sans-serif" fill="#222" font-weight="bold" >50</text>
<line x1="431.15" y1="238.3" x2="431.15" y2="239.9" stroke="#b5dcee" stroke-width="0.8"/>
<text x="431.15" y="245.7" font-size="5.8" text-anchor="middle" font-family="'Liberation Sans', sans-serif" fill="#222" font-weight="bold" >75</text>
<line x1="458.4" y1="238.3" x2="458.4" y2="239.9" stroke="#b5dcee" stroke-width="0.8"/>
<text x="458.4" y="245.7" font-size="5.8" text-anchor="middle" font-family="'Liberation Sans', sans-serif" fill="#222" font-weight="bold" >100</text>
<line x1="485.65" y1="238.3" x2="485.65" y2="239.9" stroke="#b5dcee" stroke-width="0.8"/>
<text x="485.65" y="245.7" font-size="5.8" text-anchor="middle" font-family="'Liberation Sans', sans-serif" fill="#222" font-weight="bold" >125</text>
<line x1="340.79999999999995" y1="235.60" x2="342.4" y2="235.60" stroke="#bbb" stroke-width="0.6"/>
<text x="338.8" y="237.97" font-size="5.8" text-anchor="end" font-family="'Liberation Sans', sans-serif" fill="#222" font-weight="bold" >0.0</text>
<line x1="340.79999999999995" y1="217.68" x2="342.4" y2="217.68" stroke="#bbb" stroke-width="0.6"/>
<text x="338.8" y="220.05" font-size="5.8" text-anchor="end" font-family="'Liberation Sans', sans-serif" fill="#222" font-weight="bold" >0.2</text>
<line x1="340.79999999999995" y1="199.76" x2="342.4" y2="199.76" stroke="#bbb" stroke-width="0.6"/>
<text x="338.8" y="202.13" font-size="5.8" text-anchor="end" font-family="'Liberation Sans', sans-serif" fill="#222" font-weight="bold" >0.4</text>
<line x1="340.79999999999995" y1="181.84" x2="342.4" y2="181.84" stroke="#bbb" stroke-width="0.6"/>
<text x="338.8" y="184.21" font-size="5.8" text-anchor="end" font-family="'Liberation Sans', sans-serif" fill="#222" font-weight="bold" >0.6</text>
<line x1="340.79999999999995" y1="163.92" x2="342.4" y2="163.92" stroke="#bbb" stroke-width="0.6"/>
<text x="338.8" y="166.29" font-size="5.8" text-anchor="end" font-family="'Liberation Sans', sans-serif" fill="#222" font-weight="bold" >0.8</text>
<line x1="340.79999999999995" y1="146.00" x2="342.4" y2="146.00" stroke="#bbb" stroke-width="0.6"/>
<text x="338.8" y="148.37" font-size="5.8" text-anchor="end" font-family="'Liberation Sans', sans-serif" fill="#222" font-weight="bold" >1.0</text>
<text transform="translate(325.3,189.8) rotate(-90)" x="0" y="0" font-size="7.3" text-anchor="middle" font-family="'Liberation Sans', sans-serif" font-weight="bold" fill="#111" textLength="82.0" lengthAdjust="spacingAndGlyphs">Progression-free survival</text>
<text x="373.5" y="256.9" font-size="7.3" font-family="'Liberation Sans', sans-serif" font-weight="bold" fill="#111" textLength="74.39999999999998" lengthAdjust="spacingAndGlyphs">Survival time (months)</text>
<text x="412.7" y="174.7" font-size="6.3" font-family="'Liberation Sans', sans-serif" font-weight="bold" fill="#111" textLength="53.69999999999999" lengthAdjust="spacingAndGlyphs">log-rank, p&lt;0.0001</text>
<line x1="407.2" y1="190.0" x2="416.4" y2="190.0" stroke="#7080d2" stroke-width="1"/>
<text x="419.1" y="191.85" font-size="5.2" font-family="'Liberation Sans', sans-serif" font-weight="bold" fill="#111">No metastasis</text>
<line x1="407.2" y1="196.3" x2="416.4" y2="196.3" stroke="#cf716c" stroke-width="1"/>
<text x="419.1" y="198.15" font-size="5.2" font-family="'Liberation Sans', sans-serif" font-weight="bold" fill="#111">Non-cutaneous metastasis</text>
<line x1="407.2" y1="203.0" x2="416.4" y2="203.0" stroke="#5eab8f" stroke-width="1"/>
<text x="419.1" y="204.85" font-size="5.2" font-family="'Liberation Sans', sans-serif" font-weight="bold" fill="#111">Cutaneous metastasis</text>
<path d="M349.4,145 H481.6" fill="none" stroke="#7080d2" stroke-width="0.8"/>
<line x1="354.4" y1="143.9" x2="354.4" y2="146.1" stroke="#7080d2" stroke-width="0.8"/>
<line x1="392.2" y1="143.9" x2="392.2" y2="146.1" stroke="#7080d2" stroke-width="0.8"/>
<line x1="396.2" y1="143.9" x2="396.2" y2="146.1" stroke="#7080d2" stroke-width="0.8"/>
<line x1="425.4" y1="143.9" x2="425.4" y2="146.1" stroke="#7080d2" stroke-width="0.8"/>
<line x1="447.4" y1="143.9" x2="447.4" y2="146.1" stroke="#7080d2" stroke-width="0.8"/>
<line x1="481.6" y1="143.9" x2="481.6" y2="146.1" stroke="#7080d2" stroke-width="0.8"/>
<path d="M349.4,145 H356.1 V156.2 H358.4 V167.4 H360.1 V179.4 H367.6 V201.3 H393.1 V213 H396.6 V224.3 H429.6 V235.5" fill="none" stroke="#cf716c" stroke-width="0.8"/>
<path d="M349.4,145 V157.4 H354.6 V163.3 H356.7 V175.2 H357.4 V187 H358.4 V193.2 H359.4 V199 H360.4 V205.3 H361.4 V211.3 H363.4 V217.5 H372.3 V223.5 H386.7 V229.6 H396.6 V235.3" fill="none" stroke="#5eab8f" stroke-width="0.8"/>
</g>
<g>
<path d="M341.8,271.5 H487.5 V365.8" fill="none" stroke="#d3e5ea" stroke-width="1.3"/>
<path d="M341.8,271.5 V365.8 H487.5" fill="none" stroke="#b5dcee" stroke-width="1"/>
<line x1="349.0" y1="365.8" x2="349.0" y2="367.40000000000003" stroke="#b5dcee" stroke-width="0.8"/>
<text x="349.0" y="373.8" font-size="5.8" text-anchor="middle" font-family="'Liberation Sans', sans-serif" fill="#222" font-weight="bold" >0</text>
<line x1="376.3" y1="365.8" x2="376.3" y2="367.40000000000003" stroke="#b5dcee" stroke-width="0.8"/>
<text x="376.3" y="373.8" font-size="5.8" text-anchor="middle" font-family="'Liberation Sans', sans-serif" fill="#222" font-weight="bold" >25</text>
<line x1="403.6" y1="365.8" x2="403.6" y2="367.40000000000003" stroke="#b5dcee" stroke-width="0.8"/>
<text x="403.6" y="373.8" font-size="5.8" text-anchor="middle" font-family="'Liberation Sans', sans-serif" fill="#222" font-weight="bold" >50</text>
<line x1="430.9" y1="365.8" x2="430.9" y2="367.40000000000003" stroke="#b5dcee" stroke-width="0.8"/>
<text x="430.9" y="373.8" font-size="5.8" text-anchor="middle" font-family="'Liberation Sans', sans-serif" fill="#222" font-weight="bold" >75</text>
<line x1="458.2" y1="365.8" x2="458.2" y2="367.40000000000003" stroke="#b5dcee" stroke-width="0.8"/>
<text x="458.2" y="373.8" font-size="5.8" text-anchor="middle" font-family="'Liberation Sans', sans-serif" fill="#222" font-weight="bold" >100</text>
<line x1="485.5" y1="365.8" x2="485.5" y2="367.40000000000003" stroke="#b5dcee" stroke-width="0.8"/>
<text x="485.5" y="373.8" font-size="5.8" text-anchor="middle" font-family="'Liberation Sans', sans-serif" fill="#222" font-weight="bold" >125</text>
<line x1="340.2" y1="363.70" x2="341.8" y2="363.70" stroke="#bbb" stroke-width="0.6"/>
<text x="338.3" y="366.07" font-size="5.8" text-anchor="end" font-family="'Liberation Sans', sans-serif" fill="#222" font-weight="bold" >0.0</text>
<line x1="340.2" y1="345.78" x2="341.8" y2="345.78" stroke="#bbb" stroke-width="0.6"/>
<text x="338.3" y="348.15" font-size="5.8" text-anchor="end" font-family="'Liberation Sans', sans-serif" fill="#222" font-weight="bold" >0.2</text>
<line x1="340.2" y1="327.86" x2="341.8" y2="327.86" stroke="#bbb" stroke-width="0.6"/>
<text x="338.3" y="330.23" font-size="5.8" text-anchor="end" font-family="'Liberation Sans', sans-serif" fill="#222" font-weight="bold" >0.4</text>
<line x1="340.2" y1="309.94" x2="341.8" y2="309.94" stroke="#bbb" stroke-width="0.6"/>
<text x="338.3" y="312.31" font-size="5.8" text-anchor="end" font-family="'Liberation Sans', sans-serif" fill="#222" font-weight="bold" >0.6</text>
<line x1="340.2" y1="292.02" x2="341.8" y2="292.02" stroke="#bbb" stroke-width="0.6"/>
<text x="338.3" y="294.39" font-size="5.8" text-anchor="end" font-family="'Liberation Sans', sans-serif" fill="#222" font-weight="bold" >0.8</text>
<line x1="340.2" y1="274.10" x2="341.8" y2="274.10" stroke="#bbb" stroke-width="0.6"/>
<text x="338.3" y="276.47" font-size="5.8" text-anchor="end" font-family="'Liberation Sans', sans-serif" fill="#222" font-weight="bold" >1.0</text>
<text transform="translate(324.6,318.15) rotate(-90)" x="0" y="0" font-size="7.3" text-anchor="middle" font-family="'Liberation Sans', sans-serif" font-weight="bold" fill="#111" textLength="69.5" lengthAdjust="spacingAndGlyphs">Disease-free survival</text>
<text x="372.6" y="385.0" font-size="7.3" font-family="'Liberation Sans', sans-serif" font-weight="bold" fill="#111" textLength="74.39999999999998" lengthAdjust="spacingAndGlyphs">Survival time (months)</text>
<text x="412.4" y="303.3" font-size="6.3" font-family="'Liberation Sans', sans-serif" font-weight="bold" fill="#111" textLength="53.60000000000002" lengthAdjust="spacingAndGlyphs">log-rank, p&lt;0.0001</text>
<line x1="407.0" y1="318.0" x2="416.0" y2="318.0" stroke="#7080d2" stroke-width="1"/>
<text x="418.6" y="319.85" font-size="5.2" font-family="'Liberation Sans', sans-serif" font-weight="bold" fill="#111">No metastasis</text>
<line x1="407.0" y1="324.8" x2="416.0" y2="324.8" stroke="#cf716c" stroke-width="1"/>
<text x="418.6" y="326.65000000000003" font-size="5.2" font-family="'Liberation Sans', sans-serif" font-weight="bold" fill="#111">Non-cutaneous metastasis</text>
<line x1="407.0" y1="331.6" x2="416.0" y2="331.6" stroke="#5eab8f" stroke-width="1"/>
<text x="418.6" y="333.45000000000005" font-size="5.2" font-family="'Liberation Sans', sans-serif" font-weight="bold" fill="#111">Cutaneous metastasis</text>
<path d="M349.4,273.5 H480.2" fill="none" stroke="#7080d2" stroke-width="0.8"/>
<line x1="353.5" y1="272.4" x2="353.5" y2="274.6" stroke="#7080d2" stroke-width="0.8"/>
<line x1="391.4" y1="272.4" x2="391.4" y2="274.6" stroke="#7080d2" stroke-width="0.8"/>
<line x1="395.5" y1="272.4" x2="395.5" y2="274.6" stroke="#7080d2" stroke-width="0.8"/>
<line x1="423.4" y1="272.4" x2="423.4" y2="274.6" stroke="#7080d2" stroke-width="0.8"/>
<line x1="446.5" y1="272.4" x2="446.5" y2="274.6" stroke="#7080d2" stroke-width="0.8"/>
<line x1="480.2" y1="272.4" x2="480.2" y2="274.6" stroke="#7080d2" stroke-width="0.8"/>
<path d="M349.4,273.5 H357.3 V284.4 H359.6 V295.5 H366.3 V318.4 H375.1 V329.5 H390.9 V341.3 H395.6 V352.3 H428.5 V363.4" fill="none" stroke="#cf716c" stroke-width="0.8"/>
<path d="M349.4,273.5 V279.4 H351.2 V285.4 H353.2 V291.4 H355.2 V297.3 H355.9 V303.4 H356.2 V309.4 H356.9 V315.4 H357.6 V321.4 H359.4 V327.3 H360.4 V333.4 H362.4 V339.4 H368.8 V345.4 H371.3 V351.4 H385.4 V357.3 H395.6 V363.4" fill="none" stroke="#5eab8f" stroke-width="0.8"/>
</g>
<g>
<path d="M538.4,20.5 H684.2 V115.3" fill="none" stroke="#d3e5ea" stroke-width="1.3"/>
<path d="M538.4,20.5 V115.3 H684.2" fill="none" stroke="#b5dcee" stroke-width="1"/>
<line x1="545.4" y1="115.3" x2="545.4" y2="116.89999999999999" stroke="#b5dcee" stroke-width="0.8"/>
<text x="545.4" y="123.2" font-size="5.8" text-anchor="middle" font-family="'Liberation Sans', sans-serif" fill="#222" font-weight="bold" >0</text>
<line x1="575.6" y1="115.3" x2="575.6" y2="116.89999999999999" stroke="#b5dcee" stroke-width="0.8"/>
<text x="575.6" y="123.2" font-size="5.8" text-anchor="middle" font-family="'Liberation Sans', sans-serif" fill="#222" font-weight="bold" >20</text>
<line x1="605.8" y1="115.3" x2="605.8" y2="116.89999999999999" stroke="#b5dcee" stroke-width="0.8"/>
<text x="605.8" y="123.2" font-size="5.8" text-anchor="middle" font-family="'Liberation Sans', sans-serif" fill="#222" font-weight="bold" >40</text>
<line x1="636.0" y1="115.3" x2="636.0" y2="116.89999999999999" stroke="#b5dcee" stroke-width="0.8"/>
<text x="636.0" y="123.2" font-size="5.8" text-anchor="middle" font-family="'Liberation Sans', sans-serif" fill="#222" font-weight="bold" >60</text>
<line x1="666.1999999999999" y1="115.3" x2="666.1999999999999" y2="116.89999999999999" stroke="#b5dcee" stroke-width="0.8"/>
<text x="666.1999999999999" y="123.2" font-size="5.8" text-anchor="middle" font-family="'Liberation Sans', sans-serif" fill="#222" font-weight="bold" >80</text>
<line x1="536.8" y1="112.80" x2="538.4" y2="112.80" stroke="#bbb" stroke-width="0.6"/>
<text x="534.6" y="115.17" font-size="5.8" text-anchor="end" font-family="'Liberation Sans', sans-serif" fill="#222" font-weight="bold" >0.0</text>
<line x1="536.8" y1="94.70" x2="538.4" y2="94.70" stroke="#bbb" stroke-width="0.6"/>
<text x="534.6" y="97.07" font-size="5.8" text-anchor="end" font-family="'Liberation Sans', sans-serif" fill="#222" font-weight="bold" >0.2</text>
<line x1="536.8" y1="76.60" x2="538.4" y2="76.60" stroke="#bbb" stroke-width="0.6"/>
<text x="534.6" y="78.97" font-size="5.8" text-anchor="end" font-family="'Liberation Sans', sans-serif" fill="#222" font-weight="bold" >0.4</text>
<line x1="536.8" y1="58.50" x2="538.4" y2="58.50" stroke="#bbb" stroke-width="0.6"/>
<text x="534.6" y="60.87" font-size="5.8" text-anchor="end" font-family="'Liberation Sans', sans-serif" fill="#222" font-weight="bold" >0.6</text>
<line x1="536.8" y1="40.40" x2="538.4" y2="40.40" stroke="#bbb" stroke-width="0.6"/>
<text x="534.6" y="42.77" font-size="5.8" text-anchor="end" font-family="'Liberation Sans', sans-serif" fill="#222" font-weight="bold" >0.8</text>
<line x1="536.8" y1="22.30" x2="538.4" y2="22.30" stroke="#bbb" stroke-width="0.6"/>
<text x="534.6" y="24.67" font-size="5.8" text-anchor="end" font-family="'Liberation Sans', sans-serif" fill="#222" font-weight="bold" >1.0</text>
<text transform="translate(521.8,67.55) rotate(-90)" x="0" y="0" font-size="7.3" text-anchor="middle" font-family="'Liberation Sans', sans-serif" font-weight="bold" fill="#111" textLength="51.9" lengthAdjust="spacingAndGlyphs">Overall survival</text>
<text x="569.5" y="134.1" font-size="7.3" font-family="'Liberation Sans', sans-serif" font-weight="bold" fill="#111" textLength="75.20000000000005" lengthAdjust="spacingAndGlyphs">Survival time (months)</text>
<text x="553.6" y="74.8" font-size="6.3" font-family="'Liberation Sans', sans-serif" font-weight="bold" fill="#111" textLength="54.799999999999955" lengthAdjust="spacingAndGlyphs">log-rank, p=0.1139</text>
<line x1="545.6" y1="97.0" x2="555.6" y2="97.0" stroke="#7080d2" stroke-width="1"/>
<text x="559.0" y="98.85" font-size="5.2" font-family="'Liberation Sans', sans-serif" font-weight="bold" fill="#111">Multiple-organ metastasis</text>
<line x1="545.6" y1="105.0" x2="555.6" y2="105.0" stroke="#cf716c" stroke-width="1"/>
<text x="559.0" y="106.85" font-size="5.2" font-family="'Liberation Sans', sans-serif" font-weight="bold" fill="#111">Cutaneous metastasis only</text>
<path d="M545.6,22.4 H570.4 V32.4 H598.4 V42.4 H606 V52.5 H608 V62.7 H613.6 V72.4 H615 V82.5 H637 V93 H655.6 V103.1 H664.3" fill="none" stroke="#7080d2" stroke-width="0.8"/>
<line x1="664.3" y1="102.0" x2="664.3" y2="104.19999999999999" stroke="#7080d2" stroke-width="0.8"/>
<path d="M545.6,22.4 H573.4 V37.5 H663.6 V75.4 H681.9 V112.6" fill="none" stroke="#cf716c" stroke-width="0.8"/>
<line x1="596.4" y1="36.4" x2="596.4" y2="38.6" stroke="#cf716c" stroke-width="0.8"/>
<line x1="613.0" y1="36.4" x2="613.0" y2="38.6" stroke="#cf716c" stroke-width="0.8"/>
</g>
<g>
<path d="M538.2,143.8 H682.5 V237.3" fill="none" stroke="#d3e5ea" stroke-width="1.3"/>
<path d="M538.2,143.8 V237.3 H682.5" fill="none" stroke="#b5dcee" stroke-width="1"/>
<line x1="545.5" y1="237.3" x2="545.5" y2="238.9" stroke="#b5dcee" stroke-width="0.8"/>
<text x="545.5" y="246.9" font-size="5.8" text-anchor="middle" font-family="'Liberation Sans', sans-serif" fill="#222" font-weight="bold" >0</text>
<line x1="576.8" y1="237.3" x2="576.8" y2="238.9" stroke="#b5dcee" stroke-width="0.8"/>
<text x="576.8" y="246.9" font-size="5.8" text-anchor="middle" font-family="'Liberation Sans', sans-serif" fill="#222" font-weight="bold" >10</text>
<line x1="608.1" y1="237.3" x2="608.1" y2="238.9" stroke="#b5dcee" stroke-width="0.8"/>
<text x="608.1" y="246.9" font-size="5.8" text-anchor="middle" font-family="'Liberation Sans', sans-serif" fill="#222" font-weight="bold" >20</text>
<line x1="639.4" y1="237.3" x2="639.4" y2="238.9" stroke="#b5dcee" stroke-width="0.8"/>
<text x="639.4" y="246.9" font-size="5.8" text-anchor="middle" font-family="'Liberation Sans', sans-serif" fill="#222" font-weight="bold" >30</text>
<line x1="670.7" y1="237.3" x2="670.7" y2="238.9" stroke="#b5dcee" stroke-width="0.8"/>
<text x="670.7" y="246.9" font-size="5.8" text-anchor="middle" font-family="'Liberation Sans', sans-serif" fill="#222" font-weight="bold" >40</text>
<line x1="536.6" y1="236.30" x2="538.2" y2="236.30" stroke="#bbb" stroke-width="0.6"/>
<text x="534.9" y="238.67" font-size="5.8" text-anchor="end" font-family="'Liberation Sans', sans-serif" fill="#222" font-weight="bold" >0.0</text>
<line x1="536.6" y1="218.26" x2="538.2" y2="218.26" stroke="#bbb" stroke-width="0.6"/>
<text x="534.9" y="220.63" font-size="5.8" text-anchor="end" font-family="'Liberation Sans', sans-serif" fill="#222" font-weight="bold" >0.2</text>
<line x1="536.6" y1="200.22" x2="538.2" y2="200.22" stroke="#bbb" stroke-width="0.6"/>
<text x="534.9" y="202.59" font-size="5.8" text-anchor="end" font-family="'Liberation Sans', sans-serif" fill="#222" font-weight="bold" >0.4</text>
<line x1="536.6" y1="182.18" x2="538.2" y2="182.18" stroke="#bbb" stroke-width="0.6"/>
<text x="534.9" y="184.55" font-size="5.8" text-anchor="end" font-family="'Liberation Sans', sans-serif" fill="#222" font-weight="bold" >0.6</text>
<line x1="536.6" y1="164.14" x2="538.2" y2="164.14" stroke="#bbb" stroke-width="0.6"/>
<text x="534.9" y="166.51" font-size="5.8" text-anchor="end" font-family="'Liberation Sans', sans-serif" fill="#222" font-weight="bold" >0.8</text>
<line x1="536.6" y1="146.10" x2="538.2" y2="146.10" stroke="#bbb" stroke-width="0.6"/>
<text x="534.9" y="148.47" font-size="5.8" text-anchor="end" font-family="'Liberation Sans', sans-serif" fill="#222" font-weight="bold" >1.0</text>
<text transform="translate(521.4,190.15) rotate(-90)" x="0" y="0" font-size="7.3" text-anchor="middle" font-family="'Liberation Sans', sans-serif" font-weight="bold" fill="#111" textLength="82.7" lengthAdjust="spacingAndGlyphs">Progression-free survival</text>
<text x="569.9" y="258.1" font-size="7.3" font-family="'Liberation Sans', sans-serif" font-weight="bold" fill="#111" textLength="74.80000000000007" lengthAdjust="spacingAndGlyphs">Survival time (months)</text>
<text x="593.6" y="189.4" font-size="6.3" font-family="'Liberation Sans', sans-serif" font-weight="bold" fill="#111" textLength="55.0" lengthAdjust="spacingAndGlyphs">log-rank, p=0.9608</text>
<line x1="592.4" y1="153.6" x2="602.4" y2="153.6" stroke="#7080d2" stroke-width="1"/>
<text x="606.0" y="155.45" font-size="5.2" font-family="'Liberation Sans', sans-serif" font-weight="bold" fill="#111">Multiple-organ metastasis</text>
<line x1="592.4" y1="161.7" x2="602.4" y2="161.7" stroke="#cf716c" stroke-width="1"/>
<text x="606.0" y="163.54999999999998" font-size="5.2" font-family="'Liberation Sans', sans-serif" font-weight="bold" fill="#111">Cutaneous metastasis only</text>
<path d="M545.8,145.4 V155.6 H561.4 V165.4 H566.4 V175.6 H569.4 V186 H570.4 V196 H574 V206.4 H580.4 V216.4 H610.4 V226.7 H681.5 V236.3" fill="none" stroke="#7080d2" stroke-width="0.8"/>
<path d="M545.8,145.4 V160.4 H567 V175.6 H572.4 V191 H576.4 V206.4 H586.4 V221.5 H652.5 V236.3" fill="none" stroke="#cf716c" stroke-width="0.8"/>
</g>
<g>
<path d="M538.2,271.6 H683.0 V365.4" fill="none" stroke="#d3e5ea" stroke-width="1.3"/>
<path d="M538.2,271.6 V365.4 H683.0" fill="none" stroke="#b5dcee" stroke-width="1"/>
<line x1="545.6" y1="365.4" x2="545.6" y2="367.0" stroke="#b5dcee" stroke-width="0.8"/>
<text x="545.6" y="374.1" font-size="5.8" text-anchor="middle" font-family="'Liberation Sans', sans-serif" fill="#222" font-weight="bold" >0</text>
<line x1="577.5" y1="365.4" x2="577.5" y2="367.0" stroke="#b5dcee" stroke-width="0.8"/>
<text x="577.5" y="374.1" font-size="5.8" text-anchor="middle" font-family="'Liberation Sans', sans-serif" fill="#222" font-weight="bold" >10</text>
<line x1="609.4" y1="365.4" x2="609.4" y2="367.0" stroke="#b5dcee" stroke-width="0.8"/>
<text x="609.4" y="374.1" font-size="5.8" text-anchor="middle" font-family="'Liberation Sans', sans-serif" fill="#222" font-weight="bold" >20</text>
<line x1="641.3" y1="365.4" x2="641.3" y2="367.0" stroke="#b5dcee" stroke-width="0.8"/>
<text x="641.3" y="374.1" font-size="5.8" text-anchor="middle" font-family="'Liberation Sans', sans-serif" fill="#222" font-weight="bold" >30</text>
<line x1="673.2" y1="365.4" x2="673.2" y2="367.0" stroke="#b5dcee" stroke-width="0.8"/>
<text x="673.2" y="374.1" font-size="5.8" text-anchor="middle" font-family="'Liberation Sans', sans-serif" fill="#222" font-weight="bold" >40</text>
<line x1="536.6" y1="364.30" x2="538.2" y2="364.30" stroke="#bbb" stroke-width="0.6"/>
<text x="534.9" y="366.67" font-size="5.8" text-anchor="end" font-family="'Liberation Sans', sans-serif" fill="#222" font-weight="bold" >0.0</text>
<line x1="536.6" y1="346.22" x2="538.2" y2="346.22" stroke="#bbb" stroke-width="0.6"/>
<text x="534.9" y="348.59" font-size="5.8" text-anchor="end" font-family="'Liberation Sans', sans-serif" fill="#222" font-weight="bold" >0.2</text>
<line x1="536.6" y1="328.14" x2="538.2" y2="328.14" stroke="#bbb" stroke-width="0.6"/>
<text x="534.9" y="330.51" font-size="5.8" text-anchor="end" font-family="'Liberation Sans', sans-serif" fill="#222" font-weight="bold" >0.4</text>
<line x1="536.6" y1="310.06" x2="538.2" y2="310.06" stroke="#bbb" stroke-width="0.6"/>
<text x="534.9" y="312.43" font-size="5.8" text-anchor="end" font-family="'Liberation Sans', sans-serif" fill="#222" font-weight="bold" >0.6</text>
<line x1="536.6" y1="291.98" x2="538.2" y2="291.98" stroke="#bbb" stroke-width="0.6"/>
<text x="534.9" y="294.35" font-size="5.8" text-anchor="end" font-family="'Liberation Sans', sans-serif" fill="#222" font-weight="bold" >0.8</text>
<line x1="536.6" y1="273.90" x2="538.2" y2="273.90" stroke="#bbb" stroke-width="0.6"/>
<text x="534.9" y="276.27" font-size="5.8" text-anchor="end" font-family="'Liberation Sans', sans-serif" fill="#222" font-weight="bold" >1.0</text>
<text transform="translate(521.8,318.3) rotate(-90)" x="0" y="0" font-size="7.3" text-anchor="middle" font-family="'Liberation Sans', sans-serif" font-weight="bold" fill="#111" textLength="69.5" lengthAdjust="spacingAndGlyphs">Disease-free survival</text>
<text x="569.9" y="385.5" font-size="7.3" font-family="'Liberation Sans', sans-serif" font-weight="bold" fill="#111" textLength="74.80000000000007" lengthAdjust="spacingAndGlyphs">Survival time (months)</text>
<text x="593.6" y="316.4" font-size="6.3" font-family="'Liberation Sans', sans-serif" font-weight="bold" fill="#111" textLength="55.0" lengthAdjust="spacingAndGlyphs">log-rank, p=0.5438</text>
<line x1="592.4" y1="281.0" x2="602.4" y2="281.0" stroke="#7080d2" stroke-width="1"/>
<text x="606.0" y="282.85" font-size="5.2" font-family="'Liberation Sans', sans-serif" font-weight="bold" fill="#111">Multiple-organ metastasis</text>
<line x1="592.4" y1="289.0" x2="602.4" y2="289.0" stroke="#cf716c" stroke-width="1"/>
<text x="606.0" y="290.85" font-size="5.2" font-family="'Liberation Sans', sans-serif" font-weight="bold" fill="#111">Cutaneous metastasis only</text>
<path d="M546,273.4 V283.2 H552 V293.4 H558.4 V303.6 H564.4 V314 H565.6 V324.4 H569.4 V334.4 H579.6 V344.4 H609.6 V354.5 H681.7 V364.5" fill="none" stroke="#7080d2" stroke-width="0.8"/>
<path d="M546,273.4 H566.3 V288.4 H571.6 V303.6 H576.4 V319.4 H585.6 V334.4 H604.4 V349.4 H651.6 V364.5" fill="none" stroke="#cf716c" stroke-width="0.8"/>
</g>
</svg>
</body></html>
